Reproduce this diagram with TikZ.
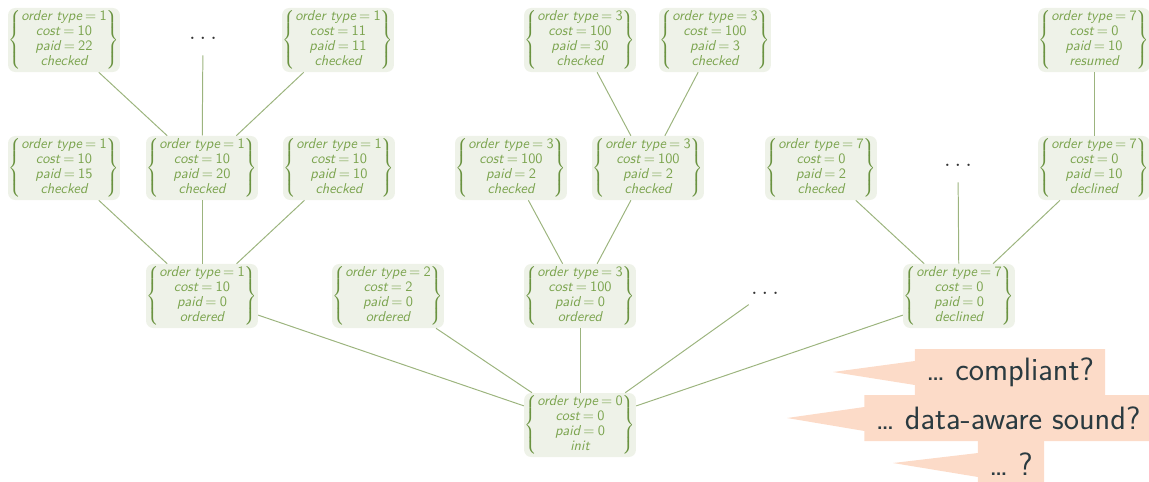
\documentclass[tikz,border=0pt]{standalone}
\usepackage{xcolor}
\usetikzlibrary{shapes.callouts, positioning}
\definecolor{sfondo}{HTML}{EEF2E8}
\definecolor{stxt}{HTML}{7BA44E}
\definecolor{sbrace}{HTML}{6A9340}
\definecolor{arcoverde}{HTML}{9CB47E}
\definecolor{fumetto}{HTML}{FCDBC8}
\definecolor{ftxt}{HTML}{2A3A40}
% stato del processo: tipo d'ordine, costo, pagato, stato
\newcommand{\stato}[4]{$\left\{\begin{tabular}{@{}c@{}}
  \textcolor{stxt}{order type\:{\upshape=\:#1}}\\
  \textcolor{stxt}{cost\:{\upshape=\:#2}}\\
  \textcolor{stxt}{paid\:{\upshape=\:#3}}\\
  \textcolor{stxt}{#4}
  \end{tabular}\right\}$}
\tikzset{
  % nodo dell'albero degli stati
  stato/.style={fill=sfondo, rounded corners=5pt, minimum width=2.7cm,
    minimum height=1.6cm, inner sep=0.5pt, align=center,
    font=\fontsize{10.2}{10.5}\selectfont\sffamily\itshape, text=sbrace},
  % rami omessi
  puntini/.style={font=\LARGE, text=black!80, minimum width=0.8cm,
    minimum height=0.85cm, inner sep=0pt},
  % archi
  arco/.style={draw=arcoverde, line width=0.7pt},
  % domande
  domanda/.style={rectangle callout, fill=fumetto, text=ftxt,
    font=\fontsize{23}{25}\selectfont\sffamily, minimum height=1.15cm,
    inner ysep=0pt, inner xsep=8pt, callout pointer width=0.6cm},
}
\begin{document}
\begin{tikzpicture}[x=0.025cm, y=-0.025cm]
  \useasboundingbox (0,0) rectangle (1149,481);
  % radice
  \node[stato] (init) at (580,425) {\stato{0}{0}{0}{init}};
  % primo livello
  \node[stato] (t1) at (202,296) {\stato{1}{10}{0}{ordered}};
  \node[stato] (t2) at (388,296) {\stato{2}{2}{0}{ordered}};
  \node[stato] (t3) at (580,296) {\stato{3}{100}{0}{ordered}};
  \node[puntini] (td) at (765,293) {$\ldots$};
  \node[stato] (t7) at (959,296) {\stato{7}{0}{0}{declined}};
  % secondo livello
  \node[stato] (t1a) at (64,168) {\stato{1}{10}{15}{checked}};
  \node[stato] (t1b) at (202,168) {\stato{1}{10}{20}{checked}};
  \node[stato] (t1c) at (339,168) {\stato{1}{10}{10}{checked}};
  \node[stato] (t3a) at (511,168) {\stato{3}{100}{2}{checked}};
  \node[stato] (t3b) at (648,168) {\stato{3}{100}{2}{checked}};
  \node[stato] (t7a) at (821,168) {\stato{7}{0}{2}{checked}};
  \node[puntini] (t7d) at (958,165) {$\ldots$};
  \node[stato] (t7b) at (1094,168) {\stato{7}{0}{10}{declined}};
  % terzo livello
  \node[stato] (t1ba) at (64,40) {\stato{1}{10}{22}{checked}};
  \node[puntini] (t1bd) at (203,38) {$\ldots$};
  \node[stato] (t1bb) at (338,40) {\stato{1}{11}{11}{checked}};
  \node[stato] (t3ba) at (580,40) {\stato{3}{100}{30}{checked}};
  \node[stato] (t3bb) at (715,40) {\stato{3}{100}{3}{checked}};
  \node[stato] (t7ba) at (1094,40) {\stato{7}{0}{10}{resumed}};
  % archi
  \foreach \a/\b in {init/t1, init/t2, init/t3, init/td, init/t7,
      t1/t1a, t1/t1b, t1/t1c, t3/t3a, t3/t3b, t7/t7a, t7/t7d, t7/t7b,
      t1b/t1ba, t1b/t1bd, t1b/t1bb, t3b/t3ba, t3b/t3bb, t7b/t7ba}
    \draw[arco] (\a) -- (\b);
  % domande
  \node[domanda, callout absolute pointer={(833,372)}] (q1) at (1010,372) {\dots\ compliant?};
  \node[domanda, callout absolute pointer={(787,418)}] (q2) at (1008,418) {\dots\ data-aware sound?};
  \node[domanda, callout absolute pointer={(893,463)}] (q3) at (1011,464) {\dots\ ?};
\end{tikzpicture}
\end{document}
